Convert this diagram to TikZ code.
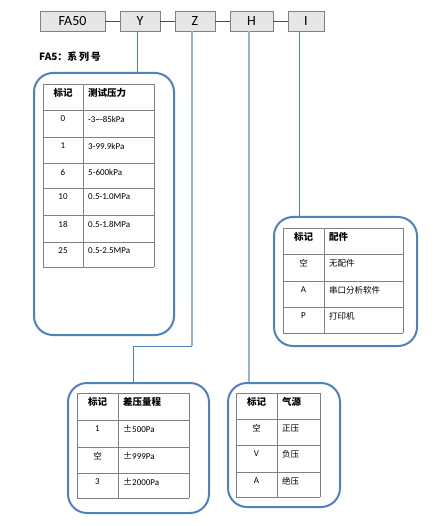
\documentclass[tikz,border=0pt]{standalone}
\usepackage{fontspec}
\setmainfont{Carlito}
\newfontfamily\cjk{Noto Sans CJK SC}
\definecolor{rb}{HTML}{4F81BD}
\definecolor{lb}{HTML}{95B3D7}
\definecolor{gridc}{HTML}{808080}
\definecolor{fillg}{HTML}{E6E6E6}
\begin{document}
\begin{tikzpicture}[x=1pt,y=-1pt,
  topbox/.style={draw=gridc, fill=fillg, line width=0.8pt, minimum height=20pt, inner sep=0pt, font=\fontsize{14}{14}\selectfont},
  rbox/.style={draw=rb, line width=2pt, rounded corners=19pt, inner sep=0pt},
  gridl/.style={draw=gridc, line width=0.7pt},
  cell/.style={inner sep=0pt, font=\fontsize{9}{10}\selectfont},
  ccell/.style={inner sep=0pt, font=\cjk\fontsize{8.5}{10}\selectfont},
  hcell/.style={inner sep=0pt, font=\cjk\bfseries\fontsize{9.5}{10}\selectfont},
  dconn/.style={draw=rb, line width=0.8pt},
  lconn/.style={draw=lb, line width=1.5pt},
  dashl/.style={draw=black!70, line width=0.8pt}]
\useasboundingbox (0,0) rectangle (436,526);

% top code boxes
\node[topbox, minimum width=65pt] (FA) at (72.5,21) {FA50};
\node[topbox, minimum width=40pt] (Y) at (140,21) {Y};
\node[topbox, minimum width=40pt] (Z) at (195,21) {Z};
\node[topbox, minimum width=43pt] (H) at (251.5,21) {H};
\node[topbox, minimum width=36pt] (I) at (306,21) {I};
\draw[dashl] (FA.east) -- (Y.west);
\draw[dashl] (Y.east) -- (Z.west);
\draw[dashl] (Z.east) -- (H.west);
\draw[dashl] (H.east) -- (I.west);

\node[anchor=west, inner sep=0pt, font=\cjk\bfseries\fontsize{10}{10}\selectfont] (lbl) at (39,57) {FA5：系\,列\,号};

% rounded boxes
\node[rbox, minimum width=140pt, minimum height=262pt] (b1) at (104,204) {};
\node[rbox, minimum width=143pt, minimum height=129pt] (b3) at (345.5,281.5) {};
\node[rbox, minimum width=141pt, minimum height=130pt] (b4) at (138.5,448) {};
\node[rbox, minimum width=112pt, minimum height=124pt] (b5) at (284,445) {};

% connectors
\draw[dconn] ([xshift=-3pt]Y.south) -- ([xshift=-3pt]Y.south |- b1.north);
\coordinate (zk) at (133,346);
\draw[lconn] ([xshift=-3pt]Z.south) -- ([xshift=-3pt]Z.south |- zk);
\draw[dconn] ([xshift=-3pt]Z.south |- zk) -- (zk) -- (zk |- b4.north);
\draw[lconn] ([xshift=-2.5pt]H.south) -- ([xshift=-2.5pt]H.south |- b5.north);
\draw[dconn] ([xshift=-7pt]I.south) -- ([xshift=-7pt]I.south |- b3.north);

% table 1
\foreach \y in {84,110,137,163,188,215,242,267} \draw[gridl] (43,\y) -- (154,\y);
\draw[gridl] (43,84) -- (43,267) (83,84) -- (83,267) (154,84) -- (154,267);
\node[hcell] (t1h1) at (63,93) {标记};
\node[hcell, anchor=west] (t1h2) at (88,93) {测试压力};
\foreach \i/\y/\a/\b in {1/110/0/{-3\textasciitilde-85kPa}, 2/137/1/{3-99.9kPa}, 3/163/6/{5-600kPa}, 4/188/10/{0.5-1.0MPa}, 5/215/18/{0.5-1.8MPa}, 6/242/25/{0.5-2.5MPa}} {
  \node[cell] (t1a\i) at (63,\y+9) {\a};
  \node[cell, anchor=west] (t1b\i) at (88,\y+9) {\b};
}

% table 3
\foreach \y in {228,254,281,307,333} \draw[gridl] (283,\y) -- (403,\y);
\draw[gridl] (283,228) -- (283,333) (324,228) -- (324,333) (403,228) -- (403,333);
\node[hcell] (t3h1) at (303.5,237) {标记};
\node[hcell, anchor=west] (t3h2) at (329,237) {配件};
\node[ccell] (t3a1) at (303.5,263) {空};
\node[ccell, anchor=west] (t3b1) at (329,263) {无配件};
\node[cell] (t3a2) at (303.5,290) {A};
\node[ccell, anchor=west] (t3b2) at (329,290) {串口分析软件};
\node[cell] (t3a3) at (303.5,316) {P};
\node[ccell, anchor=west] (t3b3) at (329,316) {打印机};

% table 4
\foreach \y in {393,420,447,473,498} \draw[gridl] (77,\y) -- (189,\y);
\draw[gridl] (77,393) -- (77,498) (118,393) -- (118,498) (189,393) -- (189,498);
\node[hcell] (t4h1) at (97.5,402) {标记};
\node[hcell, anchor=west] (t4h2) at (123,402) {差压量程};
\node[cell] (t4a1) at (97.5,429) {1};
\node[cell, anchor=west] (t4b1) at (123,429) {{\cjk ±}500Pa};
\node[ccell] (t4a2) at (97.5,456) {空};
\node[cell, anchor=west] (t4b2) at (123,456) {{\cjk ±}999Pa};
\node[cell] (t4a3) at (97.5,482) {3};
\node[cell, anchor=west] (t4b3) at (123,482) {{\cjk ±}2000Pa};

% table 5
\foreach \y in {393,419,445,472,497} \draw[gridl] (236,\y) -- (320,\y);
\draw[gridl] (236,393) -- (236,497) (277,393) -- (277,497) (320,393) -- (320,497);
\node[hcell] (t5h1) at (256.5,402) {标记};
\node[hcell, anchor=west] (t5h2) at (282,402) {气源};
\node[ccell] (t5a1) at (256.5,428) {空};
\node[ccell, anchor=west] (t5b1) at (282,428) {正压};
\node[cell] (t5a2) at (256.5,454) {V};
\node[ccell, anchor=west] (t5b2) at (282,454) {负压};
\node[cell] (t5a3) at (256.5,481) {A};
\node[ccell, anchor=west] (t5b3) at (282,481) {绝压};
\end{tikzpicture}
\end{document}
